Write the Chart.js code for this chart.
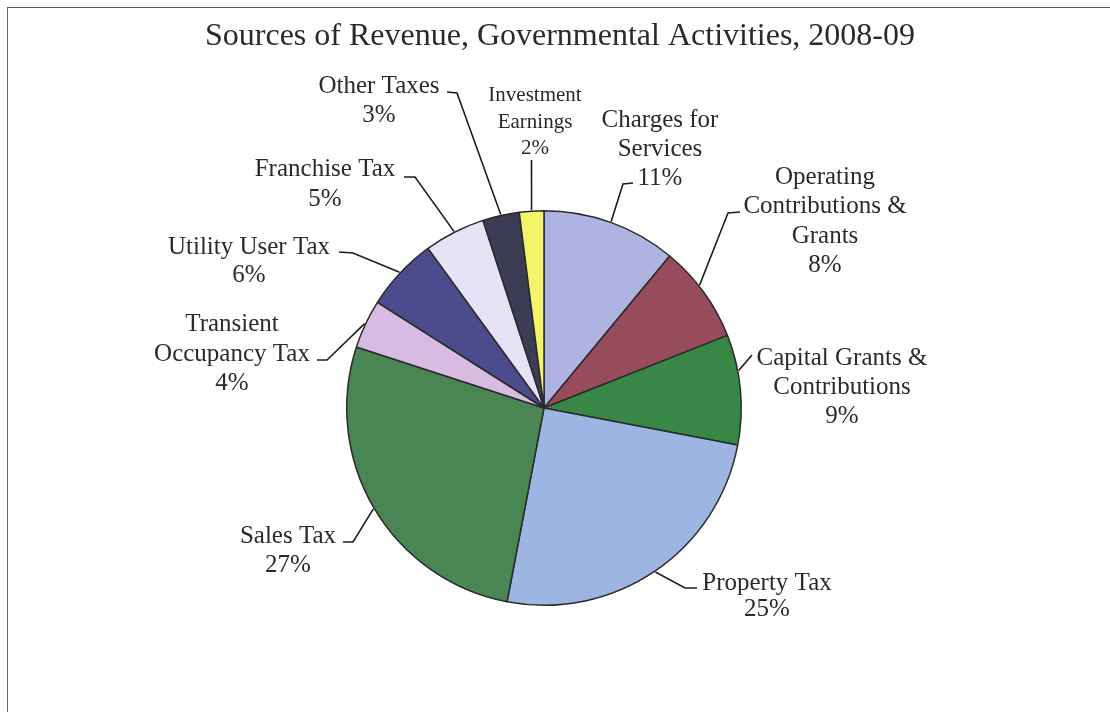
<!DOCTYPE html>
<html>
<head>
<meta charset="utf-8">
<title>Sources of Revenue, Governmental Activities, 2008-09</title>
<script src="https://cdn.jsdelivr.net/npm/chart.js@4.4.1/dist/chart.umd.min.js"></script>
<style>
  html, body { margin: 0; padding: 0; background: #fff; }
  #frame {
    position: absolute; left: 7px; top: 7px; right: 0; bottom: 0;
    border-left: 1.5px solid #6a6a6a; border-top: 1.5px solid #555;
  }
  #wrap { position: absolute; left: 0; top: 0; width: 1110px; height: 712px; }
</style>
</head>
<body>
<div id="frame"></div>
<div id="wrap"><canvas id="revenueChart" width="1110" height="712"></canvas></div>
<script>
const chartTitle = 'Sources of Revenue, Governmental Activities, 2008-09';

const categories = [
    'Charges for Services',
    'Operating Contributions & Grants',
    'Capital Grants & Contributions',
    'Property Tax',
    'Sales Tax',
    'Transient Occupancy Tax',
    'Utility User Tax',
    'Franchise Tax',
    'Other Taxes',
    'Investment Earnings'
];

// percent of total revenue
const shares = [11, 8, 9, 25, 27, 4, 6, 5, 3, 2];

// how each category name wraps in its callout
const labelLines = [
    ['Charges for', 'Services'],
    ['Operating', 'Contributions &', 'Grants'],
    ['Capital Grants &', 'Contributions'],
    ['Property Tax'],
    ['Sales Tax'],
    ['Transient', 'Occupancy Tax'],
    ['Utility User Tax'],
    ['Franchise Tax'],
    ['Other Taxes'],
    ['Investment', 'Earnings']
];

const sliceColors = [
    '#aeb3e2', '#964c5b', '#388746', '#9db5e2', '#4a8653',
    '#d8bbe2', '#4c4c8c', '#e7e2f5', '#3c3c55', '#f4f46c'
];

// callout placement: text centre x, first baseline, line step, font size,
// leader start + elbow, and where along the slice the leader lands (0..1)
const callouts = [
    { x: 660, y: 127, step: 29, size: 25, from: [633, 183], elbow: [623, 184] },
    { x: 825, y: 184, step: 29.3, size: 25, from: [740, 212], elbow: [728, 213], at: 0.42 },
    { x: 842, y: 365, step: 29, size: 25, from: [752, 355], elbow: [752, 355], at: 0.33 },
    { x: 767, y: 590, step: 26, size: 25, from: [697, 588], elbow: [685, 588] },
    { x: 288, y: 543, step: 29, size: 25, from: [343, 542], elbow: [353, 542] },
    { x: 232, y: 331, step: 29.5, size: 25, from: [317, 360], elbow: [327, 360] },
    { x: 249, y: 254, step: 28, size: 25, from: [339, 252], elbow: [353, 253] },
    { x: 325, y: 176, step: 30, size: 25, from: [404, 177], elbow: [415, 177] },
    { x: 379, y: 93, step: 29, size: 25, from: [447, 92], elbow: [457, 93] },
    { x: 535, y: 101, step: 26.5, size: 21, from: [531.5, 160], elbow: [531.5, 160] }
];

const serif = '"Liberation Serif", "Times New Roman", serif';

const calloutPlugin = {
    id: 'callouts',
    afterDraw(chart) {
        const ctx = chart.ctx;
        const arcs = chart.getDatasetMeta(0).data;
        ctx.save();

        ctx.fillStyle = '#2a2a2a';
        ctx.textAlign = 'center';
        ctx.textBaseline = 'alphabetic';
        ctx.font = '32px ' + serif;
        ctx.fillText(chartTitle, 560, 45);

        arcs.forEach((arc, i) => {
            const c = callouts[i];
            const p = arc.getProps(['x', 'y', 'startAngle', 'endAngle', 'outerRadius'], true);
            const f = c.at === undefined ? 0.5 : c.at;
            const a = p.startAngle + (p.endAngle - p.startAngle) * f;
            const ex = p.x + Math.cos(a) * (p.outerRadius + 1);
            const ey = p.y + Math.sin(a) * (p.outerRadius + 1);

            ctx.strokeStyle = '#1e1e1e';
            ctx.lineWidth = 1.6;
            ctx.beginPath();
            ctx.moveTo(c.from[0], c.from[1]);
            ctx.lineTo(c.elbow[0], c.elbow[1]);
            ctx.lineTo(ex, ey);
            ctx.stroke();

            ctx.font = c.size + 'px ' + serif;
            const lines = labelLines[i].concat([shares[i] + '%']);
            lines.forEach((t, k) => ctx.fillText(t, c.x, c.y + k * c.step));
        });
        ctx.restore();
    }
};

new Chart(document.getElementById('revenueChart'), {
    type: 'pie',
    data: {
        labels: categories,
        datasets: [{
            data: shares,
            backgroundColor: sliceColors,
            borderColor: '#2b2b2b',
            borderWidth: 1.5
        }]
    },
    options: {
        responsive: false,
        animation: false,
        layout: { padding: { left: 346, right: 368, top: 210, bottom: 106 } },
        plugins: {
            legend: { display: false },
            tooltip: { enabled: false }
        }
    },
    plugins: [calloutPlugin]
});
</script>
</body>
</html>
